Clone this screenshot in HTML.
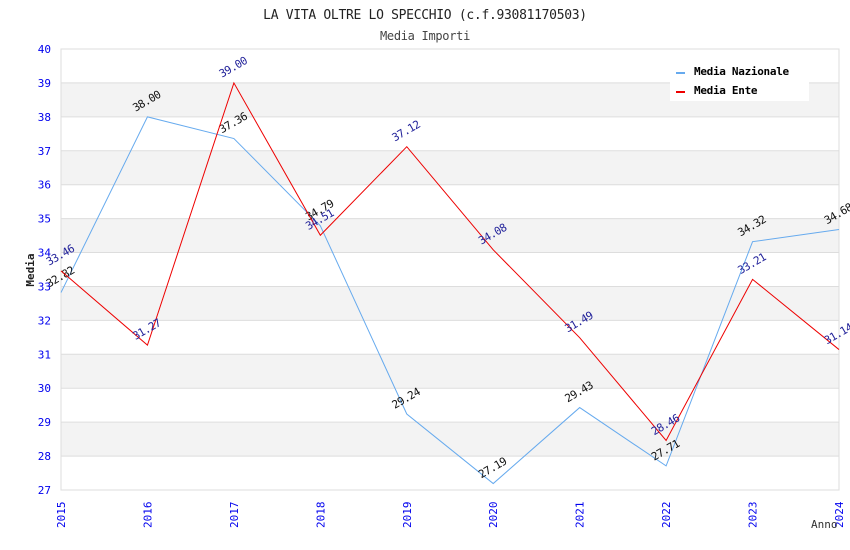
<!DOCTYPE html>
<html><head><meta charset="utf-8"><style>
body{margin:0;background:#fff;}
svg{display:block;font-family:"DejaVu Sans Mono","Liberation Mono",monospace;}
</style></head><body>
<svg id="c" width="850" height="550">
<text x="425" y="19" text-anchor="middle" font-size="13" letter-spacing="-0.3" fill="#222">LA VITA OLTRE LO SPECCHIO (c.f.93081170503)</text>
<text x="425" y="40" text-anchor="middle" font-size="12" letter-spacing="-0.3" fill="#444">Media Importi</text>
<g id="bands"></g>
<g id="grid"></g>
<rect x="61" y="49" width="778" height="441" fill="none" stroke="#ddd"/>
<g id="yt"></g><g id="xt"></g>
<text transform="translate(34,270) rotate(-90)" text-anchor="middle" font-size="11" font-weight="bold" fill="#222">Media</text>
<text x="811" y="528" font-size="11" fill="#333">Anno</text>
<g id="series"></g>
<g>
<rect x="670" y="60" width="139" height="41" fill="#fff"/>
<g><rect x="676" y="72" width="9" height="2" fill="#66aaee"/><text x="694" y="75" font-size="11" font-weight="bold" letter-spacing="-0.3" fill="#000">Media Nazionale</text></g>
<g><rect x="676" y="91" width="9" height="2" fill="#ee0000"/><text x="694" y="94" font-size="11" font-weight="bold" letter-spacing="-0.3" fill="#000">Media Ente</text></g>
</g>
</svg>
<script>
const years=["2015","2016","2017","2018","2019","2020","2021","2022","2023","2024"];
const nazionale=[32.82,38.00,37.36,34.79,29.24,27.19,29.43,27.71,34.32,34.68];
const ente=[33.46,31.27,39.00,34.51,37.12,34.08,31.49,28.46,33.21,31.14];
const yTicks=[27,28,29,30,31,32,33,34,35,36,37,38,39,40];
const NS="http://www.w3.org/2000/svg";
const X0=61,X1=839,Y0=490,Y1=49,ymin=27,ymax=40;
function xs(i){return X0+(X1-X0)*i/(years.length-1);}
function ys(v){return Y0-(v-ymin)*(Y0-Y1)/(ymax-ymin);}
function mk(t,a,p){const e=document.createElementNS(NS,t);for(const k in a)e.setAttribute(k,a[k]);p.appendChild(e);return e;}
const bands=document.getElementById('bands'),grid=document.getElementById('grid'),yt=document.getElementById('yt'),xt=document.getElementById('xt'),ser=document.getElementById('series');
yTicks.forEach(v=>{if(v%2===0&&v<40){const r=mk('rect',{x:X0,y:ys(v+1),width:X1-X0,height:ys(v)-ys(v+1),fill:'#f3f3f3'},bands);
 
 }});
yTicks.forEach(v=>{
 const l=mk('line',{x1:X0,x2:X1,y1:ys(v),y2:ys(v),stroke:'#ddd'},grid);
 
 
 const t=mk('text',{x:51,y:ys(v)+4,'text-anchor':'end','font-size':11,fill:'#0000ee'},yt);t.textContent=v;
 
 
});
years.forEach((y,i)=>{const t=mk('text',{transform:`translate(${xs(i)+4},${Y0+38}) rotate(-90)`,'font-size':11,fill:'#0000ee'},xt);t.textContent=y;
 
 });
function draw(vals,color,lab,name){
 const p=mk('polyline',{points:vals.map((v,i)=>xs(i)+','+ys(v)).join(' '),fill:'none',stroke:color,'stroke-width':1},ser);
 
 
 vals.forEach((v,i)=>{const t=mk('text',{transform:`translate(${xs(i)-12},${ys(v)-5}) rotate(-30)`,'font-size':11,'letter-spacing':'-0.6',fill:lab},ser);t.textContent=v.toFixed(2);
 
 });
}
draw(nazionale,'#66aaee','#111','nazionale');
draw(ente,'#ee0000','#22229a','ente');
</script>
</body></html>
